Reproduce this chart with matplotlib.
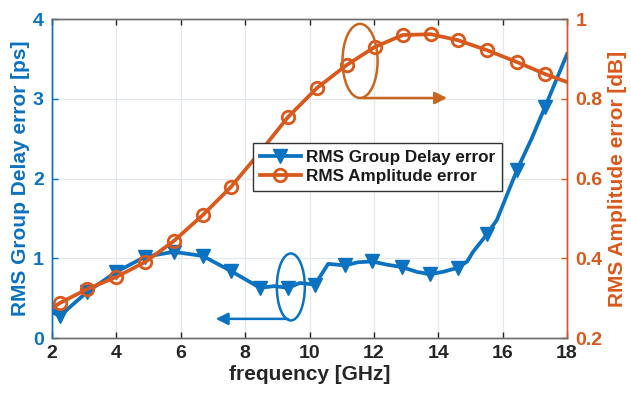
import matplotlib
matplotlib.use("Agg")
import matplotlib.pyplot as plt
from matplotlib.patches import Ellipse

plt.rcParams['font.family'] = ['Liberation Sans', 'DejaVu Sans']
plt.rcParams['font.weight'] = 'bold'

BLUE = '#0a72c0'
ORANGE = '#d9581c'

# Group delay error (ps)
delay_f = [2.0, 2.25, 3.1, 4.0, 4.9, 5.78, 6.68, 7.56, 8.46, 8.9, 9.33, 9.7, 10.17,
           10.58, 11.1, 11.5, 11.94, 12.4, 12.87, 13.33, 13.74, 14.15, 14.6, 14.9,
           15.08, 15.51, 15.82, 16.45, 16.9, 17.32, 18.0]
delay_v = [0.32, 0.28, 0.58, 0.83, 1.02, 1.08, 1.03, 0.84, 0.63, 0.65, 0.63, 0.69, 0.67,
           0.93, 0.91, 0.95, 0.96, 0.92, 0.89, 0.83, 0.80, 0.83, 0.88, 0.96,
           1.08, 1.30, 1.48, 2.11, 2.50, 2.90, 3.56]
delay_marks = [1, 2, 3, 4, 5, 6, 7, 8, 10, 12, 14, 16, 18, 20, 22, 25, 27, 29]

# Amplitude error (dB)
amp_f = [2.0, 2.25, 3.1, 4.0, 4.9, 5.78, 6.68, 7.56, 8.45, 9.33, 10.23, 11.16, 12.03,
         12.9, 13.77, 14.61, 15.51, 16.45, 17.32, 18.0]
amp_v = [0.275, 0.288, 0.323, 0.353, 0.391, 0.443, 0.508, 0.579, 0.665, 0.754, 0.827,
         0.885, 0.930, 0.960, 0.962, 0.947, 0.922, 0.892, 0.862, 0.842]
amp_marks = list(range(1, 19))

x_ticks = [2, 4, 6, 8, 10, 12, 14, 16, 18]
left_ticks = [0, 1, 2, 3, 4]
right_ticks = [0.2, 0.4, 0.6, 0.8, 1.0]
right_labels = ['0.2', '0.4', '0.6', '0.8', '1']

fig = plt.figure(figsize=(6.31, 3.97), dpi=100)
ax = fig.add_axes([0.0824, 0.1486, 0.8162, 0.8034])
ax2 = ax.twinx()

l1, = ax.plot(delay_f, delay_v, color=BLUE, lw=2.7, marker='v', markersize=10,
              markevery=delay_marks, label='RMS Group Delay error')
l2, = ax2.plot(amp_f, amp_v, color=ORANGE, lw=2.7, marker='o', markersize=9,
               markerfacecolor='none', markeredgewidth=2.0, markevery=amp_marks,
               label='RMS Amplitude error')

ax.set_xlim(2, 18)
ax.set_ylim(0, 4)
ax2.set_ylim(0.2, 1.0)
ax.set_xticks(x_ticks)
ax.set_yticks(left_ticks)
ax2.set_yticks(right_ticks)
ax2.set_yticklabels(right_labels)

ax.grid(True, color='#e4e8ee', lw=0.9)
ax.set_axisbelow(True)

fs = 14
lfs = 15
ax.tick_params(axis='x', direction='in', length=4, labelsize=fs, colors='#262626',
               top=True, width=1, pad=5)
ax.tick_params(axis='y', direction='in', length=4, labelsize=fs, colors=BLUE,
               width=1, pad=6)
ax2.tick_params(axis='y', direction='in', length=4, labelsize=fs, colors=ORANGE,
                width=1, pad=6)
for lab in ax.get_xticklabels() + ax.get_yticklabels() + ax2.get_yticklabels():
    lab.set_fontweight('bold')

for a in (ax, ax2):
    a.spines['top'].set_color('#6e6e6e')
    a.spines['bottom'].set_color('#6e6e6e')
    a.spines['left'].set_color(BLUE)
    a.spines['right'].set_color(ORANGE)
    for s in a.spines.values():
        s.set_linewidth(1.0)

ax.set_xlabel('frequency [GHz]', fontsize=lfs, fontweight='bold', color='#262626', labelpad=2)
ax.set_ylabel('RMS Group Delay error [ps]', fontsize=lfs, fontweight='bold', color=BLUE, labelpad=2)
ax2.set_ylabel('RMS Amplitude error [dB]', fontsize=lfs, fontweight='bold', color=ORANGE, labelpad=4)

# annotations
ax.add_patch(Ellipse((9.42, 0.64), 0.87, 0.84, fill=False, edgecolor=BLUE, lw=1.8, zorder=5))
ax.annotate('', xy=(7.0, 0.24), xytext=(9.42, 0.24),
            arrowprops=dict(arrowstyle='-|>', color=BLUE, lw=1.8, mutation_scale=18), zorder=5)
ax2.add_patch(Ellipse((11.57, 0.895), 1.09, 0.186, fill=False, edgecolor='#c8651e', lw=1.8, zorder=5))
ax2.annotate('', xy=(14.36, 0.802), xytext=(11.57, 0.802),
             arrowprops=dict(arrowstyle='-|>', color='#c8651e', lw=1.8, mutation_scale=18), zorder=5)

leg = ax2.legend(handles=[l1, l2], loc='upper left', bbox_to_anchor=(0.401, 0.640),
                 bbox_transform=fig.transFigure, fancybox=False, framealpha=1,
                 edgecolor='#333333', fontsize=12.3, handlelength=2.4,
                 borderpad=0.4, labelspacing=0.25, handletextpad=0.3, borderaxespad=0)
for t in leg.get_texts():
    t.set_fontweight('bold')
    t.set_color('#1a1a1a')
leg.get_frame().set_linewidth(1.0)
leg.set_zorder(10)

fig.savefig('out.png', dpi=100)
